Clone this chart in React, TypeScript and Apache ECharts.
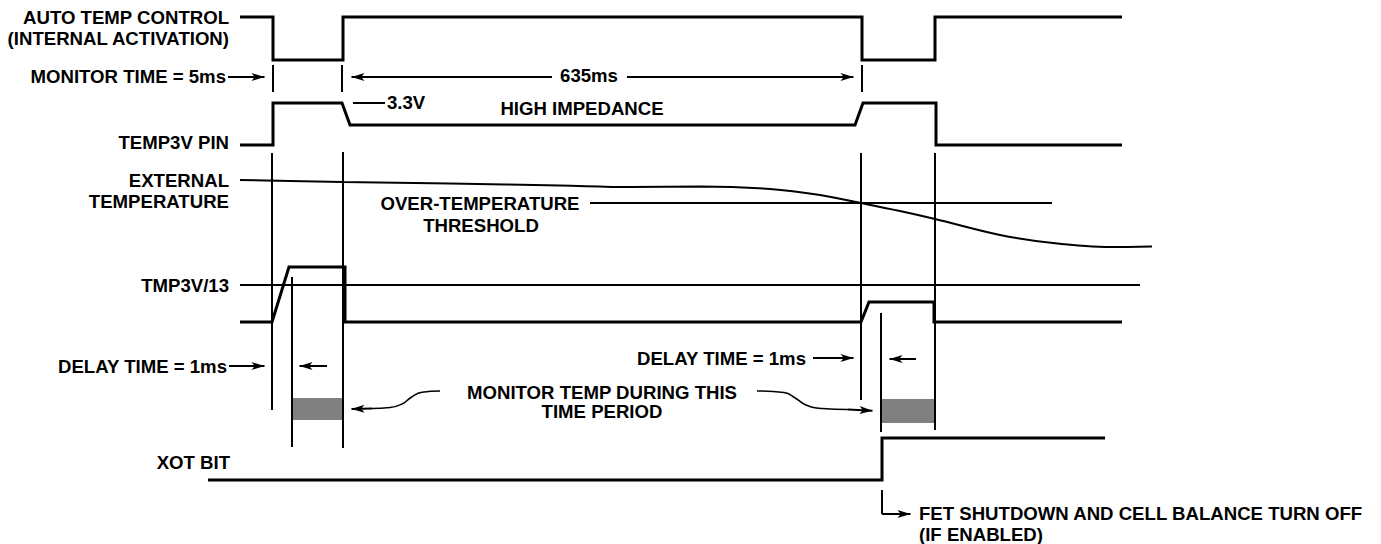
import React, { useEffect, useRef } from "react";
import * as echarts from "echarts";

const W = 1381;
const H = 544;

// ---- waveforms (x = time position, y = signal level, top-down) ----
const autoTempControl = [[240, 17], [273, 17], [273, 60], [343, 60], [343, 17], [862, 17], [862, 60], [935, 60], [935, 17], [1122, 17]];
const temp3vPin = [[240, 145], [273, 145], [273, 103], [342, 103], [350, 125], [855, 125], [863, 103], [936, 103], [936, 145], [1122, 145]];
const externalTemp = [[240, 180], [343, 182], [450, 183.5], [560, 185.5], [630, 187], [700, 186.5], [770, 189], [820, 195], [861, 203], [900, 211], [935, 219], [1000, 235], [1053, 243], [1110, 247], [1152, 246.5]];
const overTempThreshold = [[590, 203], [1052, 203]];
const tmp3vRef = [[240, 285], [1140, 285]];
const tmp3vDiv13 = [[240, 322], [272, 322], [289, 267], [345, 267], [345, 322], [861, 322], [869, 302], [934, 302], [934, 322], [1122, 322]];
const xotBit = [[208, 480], [882, 480], [882, 438], [1105, 438]];

// ---- timing markers ----
const markerLines = [
  [[272, 153], [272, 410]],
  [[292, 277], [292, 447]],
  [[343, 152], [343, 448]],
  [[861, 153], [861, 400]],
  [[881, 313], [881, 432]],
  [[935, 153], [935, 430]],
  [[273, 65], [273, 92]],
  [[342, 65], [342, 92]],
  [[862, 65], [862, 92]],
  [[353, 103], [385, 103]],
  [[882, 490], [882, 514]],
];
// [tail, tip]
const arrowLines = [
  [[228, 77], [271, 77]],
  [[552, 77], [345, 77]],
  [[627, 77], [860, 77]],
  [[229, 366], [271, 366]],
  [[327, 366], [293, 366]],
  [[813, 358], [860, 358]],
  [[916, 359], [883, 359]],
  [[882, 514], [917, 514]],
  [[372, 408.5], [345, 409]],
  [[848, 409.5], [879, 411]],
];
const curveLeft = [[440, 391], [422, 392.3], [411, 397.5], [402, 404], [390, 407.5], [372, 408.5]];
const curveRight = [[757, 391], [784, 392.5], [796, 398.5], [806, 405], [822, 408.5], [848, 409.5]];
const monitorBoxes = [[292, 398, 343, 420], [882, 399, 935, 423]];

// ---- labels ----
const labels: [string, number, number, string][] = [
  ["AUTO TEMP CONTROL", 229, 17, "right"],
  ["(INTERNAL ACTIVATION)", 229, 38, "right"],
  ["MONITOR TIME = 5ms", 226, 76, "right"],
  ["TEMP3V PIN", 229, 142, "right"],
  ["EXTERNAL", 229, 180, "right"],
  ["TEMPERATURE", 229, 201, "right"],
  ["TMP3V/13", 229, 285, "right"],
  ["DELAY TIME = 1ms", 227, 366, "right"],
  ["XOT BIT", 230, 462, "right"],
  ["635ms", 589, 75, "center"],
  ["3.3V", 387, 102, "left"],
  ["HIGH IMPEDANCE", 582, 108, "center"],
  ["OVER-TEMPERATURE", 480, 203, "center"],
  ["THRESHOLD", 481, 225, "center"],
  ["DELAY TIME = 1ms", 806, 358, "right"],
  ["MONITOR TEMP DURING THIS", 602, 392, "center"],
  ["TIME PERIOD", 602, 411, "center"],
  ["FET SHUTDOWN AND CELL BALANCE TURN OFF", 919, 513, "left"],
  ["(IF ENABLED)", 919, 534, "left"],
];

const BLACK = "#000";
const GRAY = "#808080";
const FONT = 'bold 18.6px "Liberation Sans", Arial, Helvetica, sans-serif';
const ARROW_LEN = 13;

function shortenToTip(tail: number[], tip: number[]) {
  const dx = tip[0] - tail[0];
  const dy = tip[1] - tail[1];
  const len = Math.sqrt(dx * dx + dy * dy) || 1;
  const k = ARROW_LEN / 2 / len;
  return [tail, [tip[0] - dx * k, tip[1] - dy * k]];
}

export default function App() {
  const ref = useRef<HTMLDivElement>(null);
  useEffect(() => {
    if (!ref.current) return;
    const chart = echarts.init(ref.current, null, { renderer: "svg" });
    const poly = (pts: number[][], width: number) => ({
      type: "lines",
      coordinateSystem: "cartesian2d",
      polyline: true,
      silent: true,
      lineStyle: { color: BLACK, width, opacity: 1 },
      data: [{ coords: pts }],
    });
    const smoothLine = (pts: number[][], width: number, smooth: number) => ({
      type: "line",
      data: pts,
      smooth,
      symbol: "none",
      silent: true,
      lineStyle: { color: BLACK, width },
    });
    const option: any = {
      animation: false,
      backgroundColor: "#fff",
      grid: { left: 0, right: 0, top: 0, bottom: 0, containLabel: false },
      xAxis: { type: "value", min: 0, max: W, show: false },
      yAxis: { type: "value", min: 0, max: H, inverse: true, show: false },
      series: [
        {
          type: "custom",
          silent: true,
          data: monitorBoxes,
          renderItem: (params: any, api: any) => {
            const p0 = api.coord([api.value(0), api.value(1)]);
            const p1 = api.coord([api.value(2), api.value(3)]);
            return {
              type: "rect",
              shape: { x: p0[0], y: p0[1], width: p1[0] - p0[0], height: p1[1] - p0[1] },
              style: { fill: GRAY },
            };
          },
        },
        poly(autoTempControl, 3),
        poly(temp3vPin, 3),
        smoothLine(externalTemp, 2, 0.35),
        poly(overTempThreshold, 2),
        poly(tmp3vRef, 2),
        poly(tmp3vDiv13, 3),
        poly(xotBit, 3),
        {
          type: "lines",
          coordinateSystem: "cartesian2d",
          silent: true,
          lineStyle: { color: BLACK, width: 2, opacity: 1 },
          data: markerLines.map((s) => ({ coords: s })),
        },
        smoothLine(curveLeft, 1.5, 0.5),
        smoothLine(curveRight, 1.5, 0.5),
        {
          type: "lines",
          coordinateSystem: "cartesian2d",
          silent: true,
          symbol: ["none", "arrow"],
          symbolSize: [1, [6, ARROW_LEN]],
          lineStyle: { color: BLACK, width: 2, opacity: 1 },
          itemStyle: { color: BLACK },
          data: arrowLines.map((a) => ({ coords: shortenToTip(a[0], a[1]) })),
        },
      ],
      graphic: labels.map(([text, x, y, align]) => ({
        type: "text",
        x,
        y,
        silent: true,
        style: {
          text,
          font: FONT,
          fill: BLACK,
          textAlign: align,
          align,
          textVerticalAlign: "middle",
          verticalAlign: "middle",
        },
      })),
    };
    chart.setOption(option);
    return () => chart.dispose();
  }, []);
  return (
    <div
      ref={ref}
      style={{ position: "absolute", left: 0, top: 0, width: W, height: H, background: "#fff" }}
    />
  );
}
